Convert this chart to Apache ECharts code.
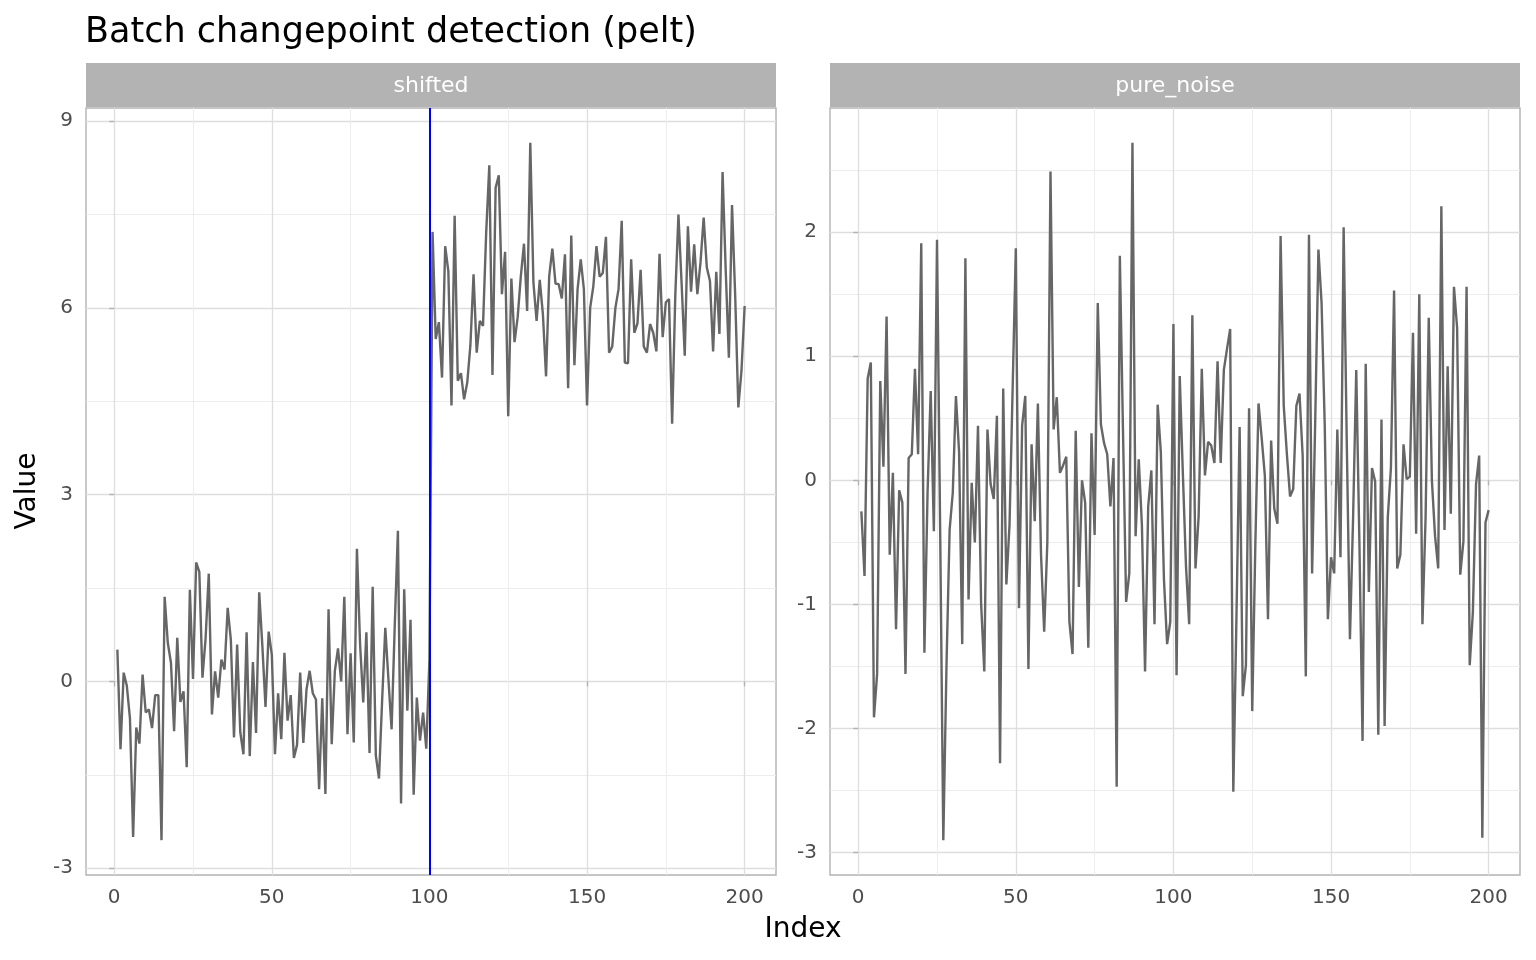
<!DOCTYPE html>
<html>
<head>
<meta charset="utf-8">
<title>Batch changepoint detection (pelt)</title>
<script src="https://cdn.jsdelivr.net/npm/echarts@6/dist/echarts.min.js"></script>
<style>
    html, body { margin: 0; padding: 0; background: #fff; }
    #chart { width: 1536px; height: 960px; }
</style>
</head>
<body>
<div id="chart"></div>
<script>
// values (index 1..200 in each panel)
var shifted = [
    0.51, -1.09, 0.14, -0.07, -0.60, -2.50, -0.74, -1.00, 0.11, -0.50,
    -0.45, -0.75, -0.22, -0.22, -2.55, 1.36, 0.62, 0.30, -0.80, 0.70,
    -0.33, -0.16, -1.38, 1.47, 0.04, 1.91, 1.76, 0.06, 0.70, 1.73,
    -0.53, 0.16, -0.26, 0.35, 0.19, 1.18, 0.67, -0.90, 0.59, -0.82,
    -1.17, 0.79, -1.20, 0.31, -0.83, 1.43, 0.57, -0.41, 0.80, 0.43,
    -1.17, -0.19, -0.93, 0.46, -0.63, -0.22, -1.23, -1.02, 0.14, -0.99,
    -0.13, 0.17, -0.19, -0.29, -1.73, -0.27, -1.81, 1.16, -1.01, 0.17,
    0.53, 0.00, 1.36, -0.85, 0.45, -0.98, 2.13, 0.60, -0.34, 0.79,
    -1.15, 1.52, -1.19, -1.56, -0.30, 0.86, 0.03, -0.77, 0.90, 2.42,
    -1.96, 1.48, -0.47, 0.99, -1.82, -0.26, -0.95, -0.50, -1.08, 0.35,
    7.22, 5.50, 5.77, 4.88, 6.99, 6.59, 4.43, 7.48, 4.83, 4.95,
    4.53, 4.80, 5.40, 6.54, 5.28, 5.79, 5.71, 7.20, 8.29, 4.92,
    7.93, 8.13, 6.22, 6.90, 4.26, 6.47, 5.45, 5.85, 6.51, 7.03,
    5.95, 8.65, 6.40, 5.79, 6.45, 5.90, 4.90, 6.51, 6.95, 6.39,
    6.38, 6.15, 6.86, 4.71, 7.16, 5.08, 6.30, 6.78, 6.30, 4.43,
    6.00, 6.35, 6.99, 6.50, 6.56, 7.14, 5.28, 5.38, 6.00, 6.30,
    7.40, 5.12, 5.11, 6.78, 5.60, 5.75, 6.61, 5.38, 5.28, 5.74,
    5.60, 5.30, 6.87, 5.53, 6.09, 6.14, 4.14, 6.20, 7.50, 6.40,
    5.23, 7.31, 6.26, 7.02, 6.22, 6.73, 7.45, 6.65, 6.43, 5.30,
    6.58, 5.58, 8.18, 6.60, 5.20, 7.65, 6.20, 4.40, 4.99, 6.03
];

var pureNoise = [
    -0.25, -0.77, 0.82, 0.95, -1.91, -1.56, 0.80, 0.11, 1.32, -0.60,
    0.06, -1.20, -0.08, -0.18, -1.56, 0.18, 0.21, 0.90, 0.21, 1.91,
    -1.39, -0.10, 0.72, -0.41, 1.94, -0.40, -2.90, -1.50, -0.40, -0.10,
    0.68, 0.23, -1.32, 1.79, -0.96, -0.02, -0.50, 0.44, -1.00, -1.54,
    0.41, -0.03, -0.15, 0.52, -2.28, 0.74, -0.84, -0.36, 0.75, 1.87,
    -1.03, 0.44, 0.68, -1.52, 0.29, -0.33, 0.62, -0.60, -1.22, -0.50,
    2.49, 0.41, 0.67, 0.06, 0.12, 0.19, -1.14, -1.40, 0.40, -0.86,
    0.00, -0.18, -1.35, 0.38, -0.44, 1.43, 0.45, 0.30, 0.21, -0.21,
    0.18, -2.47, 1.81, 0.40, -0.98, -0.75, 2.72, -0.45, 0.17, -0.36,
    -1.54, -0.21, 0.08, -1.16, 0.61, 0.23, -0.80, -1.32, -1.14, 1.26,
    -1.57, 0.84, 0.05, -0.70, -1.16, 1.33, -0.71, -0.29, 0.90, 0.04,
    0.31, 0.28, 0.14, 0.96, 0.14, 0.89, 1.06, 1.22, -2.51, -1.10,
    0.43, -1.74, -1.49, 0.58, -1.86, -0.50, 0.62, 0.34, 0.04, -1.12,
    0.32, -0.23, -0.35, 1.97, 0.60, 0.21, -0.13, -0.07, 0.60, 0.70,
    0.20, -1.58, 1.98, -0.75, 0.50, 1.86, 1.43, 0.45, -1.12, -0.62,
    -0.75, 0.41, -0.62, 2.04, 0.30, -1.28, -0.30, 0.89, -0.50, -2.10,
    0.94, -0.90, 0.10, -0.01, -2.05, 0.49, -1.98, -0.30, 0.10, 1.53,
    -0.71, -0.60, 0.29, 0.01, 0.03, 1.19, -0.43, 1.50, -1.16, -0.30,
    1.31, 0.00, -0.45, -0.71, 2.21, -0.40, 0.92, -0.27, 1.56, 1.23,
    -0.76, -0.49, 1.56, -1.49, -1.06, -0.03, 0.20, -2.88, -0.34, -0.24
];

var index = [];
for (var i = 1; i <= 200; i++) {
    index.push(i);
}

var panels = ['shifted', 'pure_noise'];
var changepoints = [100];

var xTicks = [0, 50, 100, 150, 200];
var xMinor = [25, 75, 125, 175];
var yTicksShifted = [-3, 0, 3, 6, 9];
var yMinorShifted = [-1.5, 1.5, 4.5, 7.5];
var yTicksNoise = [-3, -2, -1, 0, 1, 2];
var yMinorNoise = [-2.5, -1.5, -0.5, 0.5, 1.5, 2.5];

var FONT = 'DejaVu Sans';
var GRID_W = 690, GRID_H = 767, GRID_TOP = 108;
var gridLeft = [86, 830];

function pairs(ys) {
    return index.map(function (x, k) { return [x, ys[k]]; });
}

// ggplot-style range: data range plus 5% each side
function expandRange(vals) {
    var lo = Math.min.apply(null, vals), hi = Math.max.apply(null, vals);
    var pad = (hi - lo) * 0.05;
    return [lo - pad, hi + pad];
}

function majorAxis(gridIndex, range, ticks, isX) {
    return {
        type: 'value',
        gridIndex: gridIndex,
        min: range[0],
        max: range[1],
        position: isX ? 'bottom' : 'left',
        axisLine: {show: false},
        axisTick: {
            show: true,
            customValues: ticks,
            length: 5,
            lineStyle: {color: '#b3b3b3', width: 1.4}
        },
        axisLabel: {
            customValues: ticks,
            color: '#4d4d4d',
            fontFamily: FONT,
            fontSize: 20,
            margin: isX ? 13 : 13
        },
        splitLine: {show: true, lineStyle: {color: '#dedede', width: 1.3}}
    };
}

function minorAxis(gridIndex, range, ticks) {
    return {
        type: 'value',
        gridIndex: gridIndex,
        min: range[0],
        max: range[1],
        axisLine: {show: false},
        axisTick: {show: false, customValues: ticks},
        axisLabel: {show: false, customValues: ticks},
        splitLine: {show: true, lineStyle: {color: '#ebebeb', width: 0.9}}
    };
}

var xRange = expandRange(index);
var yRangeShifted = expandRange(shifted);
var yRangeNoise = expandRange(pureNoise);

var chart = echarts.init(document.getElementById('chart'));

var option = {
    animation: false,
    backgroundColor: '#ffffff',
    title: {
        text: 'Batch changepoint detection (pelt)',
        left: 80,
        top: 10,
        textStyle: {fontFamily: FONT, fontSize: 35, fontWeight: 'normal', color: '#000'}
    },
    grid: gridLeft.map(function (l) {
        return {
            left: l, top: GRID_TOP, width: GRID_W, height: GRID_H,
            show: true, borderColor: '#b3b3b3', borderWidth: 1.4, backgroundColor: 'transparent'
        };
    }),
    xAxis: [
        minorAxis(0, xRange, xMinor),
        majorAxis(0, xRange, xTicks, true),
        minorAxis(1, xRange, xMinor),
        majorAxis(1, xRange, xTicks, true)
    ],
    yAxis: [
        minorAxis(0, yRangeShifted, yMinorShifted),
        majorAxis(0, yRangeShifted, yTicksShifted, false),
        minorAxis(1, yRangeNoise, yMinorNoise),
        majorAxis(1, yRangeNoise, yTicksNoise, false)
    ],
    series: [
        {
            name: panels[0],
            type: 'line',
            xAxisIndex: 1,
            yAxisIndex: 1,
            data: pairs(shifted),
            showSymbol: false,
            lineStyle: {color: '#666666', width: 2.4},
            markLine: {
                silent: true,
                symbol: ['none', 'none'],
                label: {show: false},
                lineStyle: {color: '#0000ff', width: 2, type: 'solid'},
                data: changepoints.map(function (c) { return {xAxis: c}; })
            }
        },
        {
            name: panels[1],
            type: 'line',
            xAxisIndex: 3,
            yAxisIndex: 3,
            data: pairs(pureNoise),
            showSymbol: false,
            lineStyle: {color: '#666666', width: 2.4}
        }
    ],
    graphic: []
};

// facet strips
panels.forEach(function (p, k) {
    option.graphic.push({
        type: 'rect',
        shape: {x: gridLeft[k], y: 63, width: GRID_W, height: 44},
        style: {fill: '#b3b3b3'}
    });
    option.graphic.push({
        type: 'text',
        x: gridLeft[k] + GRID_W / 2,
        y: 86,
        style: {
            text: p, fill: '#ffffff', font: '22px "' + FONT + '"',
            textAlign: 'center', textVerticalAlign: 'middle'
        }
    });
});

// axis titles
option.graphic.push({
    type: 'text',
    x: 803,
    y: 930,
    style: {text: 'Index', fill: '#000', font: '28px "' + FONT + '"', textAlign: 'center', textVerticalAlign: 'middle'}
});
option.graphic.push({
    type: 'text',
    x: 28,
    y: 491,
    rotation: Math.PI / 2,
    style: {text: 'Value', fill: '#000', font: '28px "' + FONT + '"', textAlign: 'center', textVerticalAlign: 'middle'}
});

chart.setOption(option);
</script>
</body>
</html>
